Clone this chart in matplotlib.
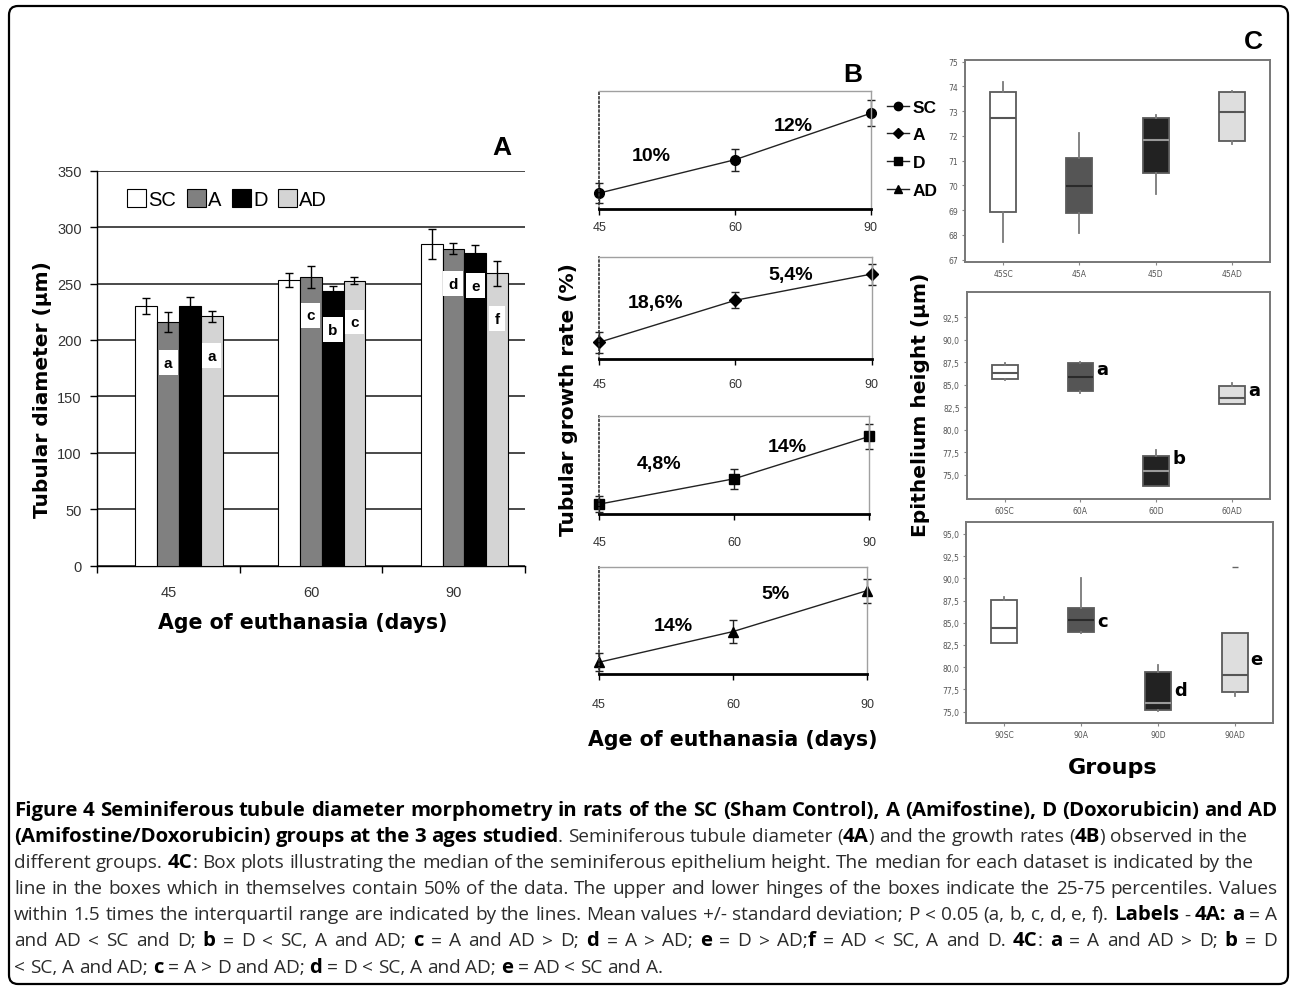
import matplotlib
matplotlib.use('Agg')
import matplotlib.pyplot as plt
from matplotlib.patches import FancyBboxPatch, Patch
from matplotlib.lines import Line2D
import numpy as np

# ------------------------------------------------------------------ data
ages = ['45', '60', '90']
groups = ['SC', 'A', 'D', 'AD']

# Panel A: tubular diameter (um), means and SD
diam_SC = [230, 253, 285]
diam_A = [216, 256, 281]
diam_D = [230, 243, 277]
diam_AD = [221, 252.5, 259]
err_SC = [7, 6, 13]
err_A = [9, 10, 5]
err_D = [8, 5, 7]
err_AD = [5, 3, 11]
letA_group = ['A', 'AD', 'A', 'D', 'AD', 'A', 'D', 'AD']
letA_age = [0, 0, 1, 1, 1, 2, 2, 2]
letA_text = ['a', 'a', 'c', 'b', 'c', 'd', 'e', 'f']
letA_y = [180, 186, 222, 209, 216, 250, 248, 219]

# Panel B: growth curves
grow_SC = [230, 253, 285]
grow_SC_err = [7, 7.5, 9]
grow_A = [216, 256, 281]
grow_A_err = [10, 7.6, 10]
grow_D = [229, 247, 277]
grow_D_err = [5.6, 7, 9]
grow_AD = [221, 239, 263]
grow_AD_err = [5.3, 6.5, 7]
rate_SC = ['10%', '12%']
rate_A = ['18,6%', '5,4%']
rate_D = ['4,8%', '14%']
rate_AD = ['14%', '5%']

# Panel C: epithelium height box plots (um)
box_labels45 = ['45SC', '45A', '45D', '45AD']
box_labels60 = ['60SC', '60A', '60D', '60AD']
box_labels90 = ['90SC', '90A', '90D', '90AD']
c45_whislo = [67.73, 68.08, 69.65, 71.67]
c45_q1 = [68.94, 68.89, 70.50, 71.81]
c45_med = [72.71, 69.99, 71.83, 72.98]
c45_q3 = [73.79, 71.09, 72.71, 73.79]
c45_whishi = [74.19, 72.12, 72.85, 73.83]
c60_whislo = [85.53, 84.12, 73.70, 82.86]
c60_q1 = [85.64, 84.27, 73.70, 82.86]
c60_med = [86.27, 85.83, 75.44, 83.49]
c60_q3 = [87.20, 87.42, 77.11, 84.90]
c60_whishi = [87.38, 87.57, 77.78, 85.16]
c90_whislo = [82.69, 83.82, 75.11, 76.80]
c90_q1 = [82.69, 83.93, 75.19, 77.18]
c90_med = [84.38, 85.36, 75.98, 79.17]
c90_q3 = [87.57, 86.71, 79.50, 83.82]
c90_whishi = [87.87, 90.01, 80.29, 83.82]
c90_fliers = [[], [], [], [91.3]]
c60_letters = ['', 'a', 'b', 'a']
c60_letter_y = [0, 86.75, 76.9, 84.4]
c90_letters = ['', 'c', 'd', 'e']
c90_letter_y = [0, 85.24, 77.48, 80.93]

# ------------------------------------------------------------------ figure
W, H = 1290, 987
fig = plt.figure(figsize=(W / 100, H / 100), dpi=100)
bg = fig.add_axes([0, 0, 1, 1])
bg.set_xlim(0, W)
bg.set_ylim(H, 0)
bg.axis('off')


def add_ax(l, t, r, b):
    return fig.add_axes([l / W, 1 - b / H, (r - l) / W, (b - t) / H])


SANS = 'Liberation Sans'
TITLE = 'DejaVu Sans'
colors = {'SC': 'white', 'A': '#808080', 'D': 'black', 'AD': '#d4d4d4'}

bg.add_patch(FancyBboxPatch((9, 7), 1279, 978, boxstyle='round,pad=0,rounding_size=9',
                            fill=False, lw=1.6, ec='black'))

# ------------------------------------------------------------------ panel A
axA = add_ax(97, 171.7, 525, 566.7)
x = np.arange(len(ages))
bw = 0.153
shift = 0.075
series = {'SC': (diam_SC, err_SC), 'A': (diam_A, err_A), 'D': (diam_D, err_D), 'AD': (diam_AD, err_AD)}
offs = {}
for i, g in enumerate(groups):
    offs[g] = (i - 1.5) * bw + shift
    vals, errs = series[g]
    axA.bar(x + offs[g], vals, bw, color=colors[g], edgecolor='black', linewidth=0.8,
            yerr=errs, error_kw=dict(ecolor='black', elinewidth=1, capsize=3, capthick=1), zorder=3)
for g, a, t, yv in zip(letA_group, letA_age, letA_text, letA_y):
    axA.text(a + offs[g], yv, t, ha='center', va='center', fontsize=11, fontweight='bold',
             family=SANS, zorder=5,
             bbox=dict(boxstyle='square,pad=0.35', fc='white', ec='none'))
axA.set_xlim(-0.5, 2.5)
axA.set_ylim(0, 350)
axA.set_yticks(np.arange(0, 351, 50))
axA.yaxis.grid(True, color='#3a3a3a', lw=1.3)
axA.set_axisbelow(True)
axA.set_xticks(x)
axA.set_xticklabels(ages)
axA.set_xticks([-0.5, 0.5, 1.5, 2.5], minor=True)
axA.tick_params(axis='x', which='major', length=0, pad=14, labelsize=10.5, labelcolor='#333')
axA.tick_params(axis='x', which='minor', length=5, width=1)
axA.tick_params(axis='y', length=5, width=1, pad=6, labelsize=10.5, labelcolor='#333')
for lab in axA.get_xticklabels() + axA.get_yticklabels():
    lab.set_family(SANS)
for s in ['top', 'right']:
    axA.spines[s].set_visible(False)
axA.spines['left'].set_linewidth(1)
axA.spines['bottom'].set_linewidth(1)
handles = [Patch(facecolor=colors[g], edgecolor='black', lw=0.8) for g in groups]
axA.legend(handles, groups, loc='center left', bbox_to_anchor=(117, 200), bbox_transform=bg.transData,
           ncol=4, frameon=False, prop=dict(family=SANS, size=14.5), handlelength=0.95,
           handleheight=0.95, handletextpad=0.12, columnspacing=0.5, borderpad=0)

bg.text(502, 148, 'A', fontsize=19, fontweight='bold', family=SANS, ha='center', va='center')
bg.text(43, 390, 'Tubular diameter (µm)', rotation=90, fontsize=14.5, fontweight='bold',
        family=TITLE, ha='center', va='center')
bg.text(303, 623, 'Age of euthanasia (days)', fontsize=14.8, fontweight='bold',
        family=TITLE, ha='center', va='center')

# ------------------------------------------------------------------ panel B
b_specs = [
    ((599.3, 91.7, 870.7, 210), grow_SC, grow_SC_err, 'o', (219, 300.6), rate_SC,
     [(0.193, 0.456), (0.714, 0.704)], 4.8),
    ((599.3, 258.3, 871.5, 360), grow_A, grow_A_err, 'D', (200, 297), rate_A,
     [(0.205, 0.551), (0.702, 0.826)], 9.4),
    ((599.3, 416.7, 869.3, 515), grow_D, grow_D_err, 's', (222, 291.7), rate_D,
     [(0.222, 0.509), (0.697, 0.689)], 12),
    ((599.0, 568.3, 867.0, 675), grow_AD, grow_AD_err, '^', (214.1, 276.7), rate_AD,
     [(0.276, 0.453), (0.660, 0.750)], 13),
]
ms_map = {'o': 7, 'D': 6, 's': 7, '^': 7}
for rect, vals, errs, mk, yl, rates, rpos, pad in b_specs:
    ax = add_ax(*rect)
    cont = ax.errorbar(x, vals, yerr=errs, color='#222', marker=mk, ms=ms_map[mk], mfc='black',
                       mec='black', lw=1, elinewidth=1, ecolor='#222', capsize=3, capthick=1)
    for art in [cont[0], *cont[1], *cont[2]]:
        art.set_clip_on(False)
    ax.set_xlim(0, 2)
    ax.set_ylim(*yl)
    ax.set_yticks([])
    ax.set_xticks(x)
    ax.set_xticklabels(ages)
    ax.tick_params(axis='x', length=4, width=1, pad=pad, labelsize=9, labelcolor='#333')
    for lab in ax.get_xticklabels():
        lab.set_family(SANS)
    ax.spines['left'].set_linestyle(':')
    ax.spines['left'].set_linewidth(1.2)
    ax.spines['left'].set_color('#333')
    for s in ['top', 'right']:
        ax.spines[s].set_color('#a0a0a0')
        ax.spines[s].set_linewidth(1)
    ax.spines['bottom'].set_linewidth(2)
    for t, (fx, fy) in zip(rates, rpos):
        ax.text(fx, fy, t, transform=ax.transAxes, ha='center', va='center', fontsize=14,
                fontweight='bold', family=SANS)

leg_handles = [Line2D([0], [0], color='#222', lw=1, marker=m, ms=ms_map[m] - 1, mfc='black', mec='black')
               for m in ['o', 'D', 's', '^']]
bg.legend(leg_handles, groups, loc='upper left', bbox_to_anchor=(878, 92), bbox_transform=bg.transData,
          frameon=False, prop=dict(family=SANS, size=12.5, weight='bold'), handlelength=1.3,
          handletextpad=0.2, labelspacing=0.72, borderpad=0)
bg.text(853, 75, 'B', fontsize=19, fontweight='bold', family=SANS, ha='center', va='center')
bg.text(568, 400, 'Tubular growth rate (%)', rotation=90, fontsize=14.5, fontweight='bold',
        family=TITLE, ha='center', va='center')
bg.text(733, 740, 'Age of euthanasia (days)', fontsize=14.8, fontweight='bold',
        family=TITLE, ha='center', va='center')

# ------------------------------------------------------------------ panel C
box_face = ['white', '#555555', '#222222', '#dedede']
med_col = ['#555555', '#2a2a2a', '#9a9a9a', '#555555']


def box_panel(rect, labels, lo, q1, med, q3, hi, ylim, yticks, fmt, fliers=None,
              letters=None, letter_y=None):
    ax = add_ax(*rect)
    stats = []
    for i in range(4):
        stats.append(dict(whislo=lo[i], q1=q1[i], med=med[i], q3=q3[i], whishi=hi[i],
                          fliers=(fliers[i] if fliers else [])))
    bp = ax.bxp(stats, positions=[1, 2, 3, 4], widths=0.34, patch_artist=True, showcaps=False,
                boxprops=dict(edgecolor='#5a5a5a', linewidth=1.3),
                whiskerprops=dict(color='#7a7a7a', linewidth=1.3),
                flierprops=dict(marker='_', markersize=5, markeredgecolor='#666'))
    for i, b in enumerate(bp['boxes']):
        b.set_facecolor(box_face[i])
    for i, m in enumerate(bp['medians']):
        m.set_color(med_col[i])
        m.set_linewidth(1.5)
    ax.set_xlim(0.5, 4.5)
    ax.set_ylim(*ylim)
    ax.set_yticks(yticks)
    ax.set_yticklabels([fmt(v) for v in yticks])
    ax.set_xticks([1, 2, 3, 4])
    ax.set_xticklabels(labels)
    ax.tick_params(length=2, width=0.8, color='#888', labelsize=5.5, labelcolor='#555', pad=3)
    for s in ax.spines.values():
        s.set_color('#777')
        s.set_linewidth(1.4)
    if letters:
        for i, (t, yv) in enumerate(zip(letters, letter_y)):
            if t:
                ax.text(i + 1 + 0.21, yv, t, ha='left', va='center', fontsize=13,
                        fontweight='bold', family=TITLE)
    return ax


def comma(v):
    return ('%.1f' % v).replace('.', ',')


box_panel((965, 60.7, 1270, 262.7), box_labels45, c45_whislo, c45_q1, c45_med, c45_q3, c45_whishi,
          (66.92, 75.08), list(range(67, 76)), lambda v: '%d' % v)
box_panel((966.7, 293.3, 1270, 500), box_labels60, c60_whislo, c60_q1, c60_med, c60_q3, c60_whishi,
          (72.3, 95.28), list(np.arange(75, 92.6, 2.5)), comma, letters=c60_letters,
          letter_y=c60_letter_y)
box_panel((966, 523.3, 1273, 724), box_labels90, c90_whislo, c90_q1, c90_med, c90_q3, c90_whishi,
          (73.72, 96.31), list(np.arange(75, 95.1, 2.5)), comma, fliers=c90_fliers,
          letters=c90_letters, letter_y=c90_letter_y)

bg.text(1253, 42, 'C', fontsize=19, fontweight='bold', family=SANS, ha='center', va='center')
bg.text(920, 405, 'Epithelium height (µm)', rotation=90, fontsize=14.5, fontweight='bold',
        family=TITLE, ha='center', va='center')
bg.text(1113, 768, 'Groups', fontsize=16, fontweight='bold', family=TITLE, ha='center', va='center')

# ------------------------------------------------------------------ caption
cap_lines = [
    [("Figure 4 Seminiferous tubule diameter morphometry in rats of the SC (Sham Control), A (Amifostine), D (Doxorubicin) and AD", True)],
    [("(Amifostine/Doxorubicin) groups at the 3 ages studied", True), (". Seminiferous tubule diameter (", False),
     ("4A", True), (") and the growth rates (", False), ("4B", True), (") observed in the", False)],
    [("different groups. ", False), ("4C", True),
     (": Box plots illustrating the median of the seminiferous epithelium height. The median for each dataset is indicated by the", False)],
    [("line in the boxes which in themselves contain 50% of the data. The upper and lower hinges of the boxes indicate the 25-75 percentiles. Values", False)],
    [("within 1.5 times the interquartil range are indicated by the lines. Mean values +/- standard deviation; P < 0.05 (a, b, c, d, e, f). ", False),
     ("Labels", True), (" - ", False), ("4A: a", True), (" = A", False)],
    [("and AD < SC and D; ", False), ("b", True), (" = D < SC, A and AD; ", False), ("c", True),
     (" = A and AD > D; ", False), ("d", True), (" = A > AD; ", False), ("e", True), (" = D > AD;", False),
     ("f", True), (" = AD < SC, A and D. ", False), ("4C", True), (": ", False), ("a", True),
     (" = A and AD > D; ", False), ("b", True), (" = D", False)],
    [("< SC, A and AD; ", False), ("c", True), (" = A > D and AD; ", False), ("d", True),
     (" = D < SC, A and AD; ", False), ("e", True), (" = AD < SC and A.", False)],
]
# lines that run to the right margin in the original layout
fill_line = [True, False, False, True, True, True, False]
CAP_FONT = 'Open Sans'
renderer = fig.canvas.get_renderer()


def tw(s, bold, size):
    t = bg.text(0, 0, s, fontsize=size, fontweight='bold' if bold else 'normal', family=CAP_FONT)
    w = t.get_window_extent(renderer).width
    t.remove()
    return w


def to_words(runs):
    words, cur = [], []
    for text, bold in runs:
        parts = text.split(' ')
        for i, p in enumerate(parts):
            if i > 0 and cur:
                words.append(cur)
                cur = []
            if p:
                cur.append((p, bold))
    if cur:
        words.append(cur)
    return words


def natural_width(words, size_n, size_b):
    sp = tw('x x', False, size_n) - tw('xx', False, size_n)
    return sum(tw(p, b, size_b if b else size_n) for w in words for p, b in w) + sp * (len(words) - 1)


base = 10.0
cap_fs = base * 1253.0 / natural_width(to_words(cap_lines[3]), base, base)
bold_fs = cap_fs * 1263.0 / natural_width(to_words(cap_lines[0]), cap_fs, cap_fs)
bold_fs = min(bold_fs, cap_fs * 1.08)
x0, xright = 14.0, 1277.0
for li, runs in enumerate(cap_lines):
    words = to_words(runs)
    widths = [[tw(p, b, bold_fs if b else cap_fs) for p, b in w] for w in words]
    total = sum(sum(w) for w in widths)
    sp = tw('x x', False, cap_fs) - tw('xx', False, cap_fs)
    if (fill_line[li] or x0 + total + sp * (len(words) - 1) > xright) and len(words) > 1:
        sp = (xright - x0 - total) / (len(words) - 1)
    xc = x0
    yb = 816 + li * 26.1
    for w, ws in zip(words, widths):
        for (p, b), pw in zip(w, ws):
            bg.text(xc, yb, p, fontsize=bold_fs if b else cap_fs, fontweight='bold' if b else 'normal',
                    family=CAP_FONT, ha='left', va='baseline', color='black' if b else '#2b2b2b')
            xc += pw
        xc += sp

fig.savefig('out.png', dpi=100)
